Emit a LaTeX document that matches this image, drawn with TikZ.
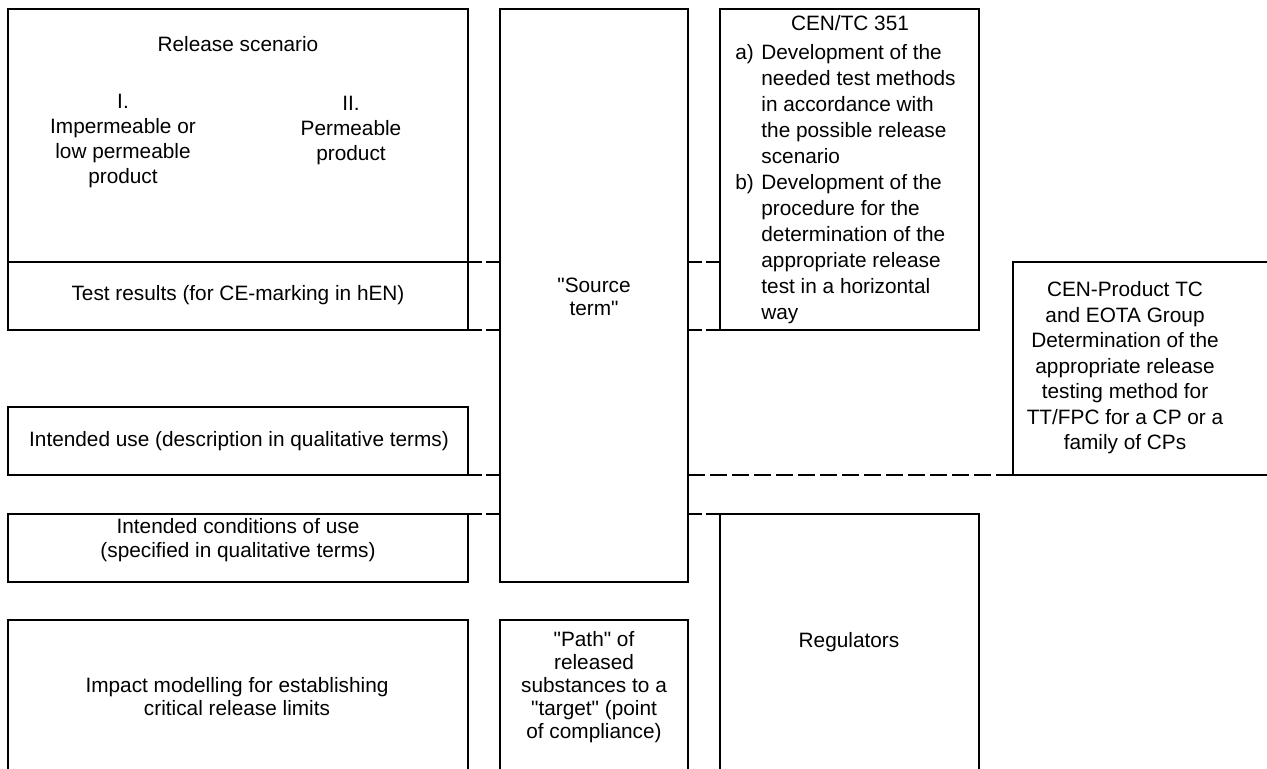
\documentclass[tikz,border=0pt]{standalone}
\usepackage{fontspec}
\setmainfont{Liberation Sans}
\newcommand{\qq}{\textquotedbl}
\newcommand{\lbl}[1]{\makebox[13pt][l]{#1}}
\newcommand{\ind}{\hspace*{13pt}}
\begin{document}
\begin{tikzpicture}[x=0.5pt,y=-0.5pt,
  box/.style={draw, line width=0.8pt, inner sep=0pt, outer sep=0pt, anchor=north west},
  txt/.style={align=center, inner sep=0pt},
  lead/.style={font=\fontsize{10.4}{#1}\selectfont},
  dshort/.style={line width=0.8pt, dash pattern=on 7pt off 2pt},
  dlong/.style={line width=0.8pt, dash pattern=on 8.5pt off 2.5pt}]
\useasboundingbox (0,0) rectangle (1267,769);
\clip (0,0) rectangle (1267,769);
% boxes
\node[box, minimum width=230pt, minimum height=126.5pt] (rs) at (8,9) {};
\node[box, minimum width=230pt, minimum height=34pt] (tr) at (8,262) {};
\node[box, minimum width=230pt, minimum height=34pt] (iu) at (8,407) {};
\node[box, minimum width=230pt, minimum height=34pt] (ic) at (8,514) {};
\node[box, minimum width=230pt, minimum height=90pt] (im) at (8,620) {};
\node[box, minimum width=94pt, minimum height=286.5pt] (st) at (500,9) {};
\node[box, minimum width=94pt, minimum height=90pt] (pa) at (500,620) {};
\node[box, minimum width=129.5pt, minimum height=160.5pt] (cen) at (720,9) {};
\node[box, minimum width=129.5pt, minimum height=138pt] (reg) at (720,514) {};
\node[box, minimum width=150pt, minimum height=106.5pt] (prod) at (1013,262) {};
% texts
\node[txt, lead=12.5] (trs) at (238,44) {Release scenario};
\node[txt, lead=12.5] (ti) at (123,141) {I.\\Impermeable or\\low permeable\\product};
\node[txt, lead=12.5] (tii) at (351,131) {II.\\Permeable\\product};
\node[txt, lead=12.5] (ttr) at (238,295) {Test results (for CE-marking in hEN)};
\node[txt, lead=12.5] (tiu) at (239,441) {Intended use (description in qualitative terms)};
\node[txt, lead=12] (tic) at (238,540) {Intended conditions of use\\(specified in qualitative terms)};
\node[txt, lead=11.5] (tim) at (237,697) {Impact modelling for establishing\\critical release limits};
\node[txt, lead=11.5] (tst) at (594,297) {\qq Source\\term\qq};
\node[txt, lead=11.5] (tpa) at (594,687) {\qq Path\qq{} of\\released\\substances to a\\\qq target\qq{} (point\\of compliance)};
\node[txt, lead=12.5] (treg) at (849,642) {Regulators};
\node[txt, lead=13] (tcen) at (850,23) {CEN/TC 351};
\node[txt, lead=13, align=left, anchor=north west] (tcenl) at (735,44) {%
\lbl{a)}Development of the\\
\ind needed test methods\\
\ind in accordance with\\
\ind the possible release\\
\ind scenario\\
\lbl{b)}Development of the\\
\ind procedure for the\\
\ind determination of the\\
\ind appropriate release\\
\ind test in a horizontal\\
\ind way};
\node[txt, lead=12.75] (tprod) at (1125,368) {CEN-Product TC\\and EOTA Group\\Determination of the\\appropriate release\\testing method for\\TT/FPC for a CP or a\\family of CPs};
% dashed connectors
\draw[dshort] (tr.north east) -- (tr.north east -| st.west);
\draw[dshort] (tr.south east) -- (tr.south east -| st.west);
\draw[dshort] (iu.south east) -- (iu.south east -| st.west);
\draw[dshort] (ic.north east) -- (ic.north east -| st.west);
\draw[dshort] (st.east |- prod.north west) -- (cen.west |- prod.north west);
\draw[dshort] (st.east |- cen.south west) -- (cen.south west);
\draw[dlong] (st.east |- prod.south west) -- (prod.south west);
\draw[dshort] (st.east |- reg.north west) -- (reg.north west);
\end{tikzpicture}
\end{document}
